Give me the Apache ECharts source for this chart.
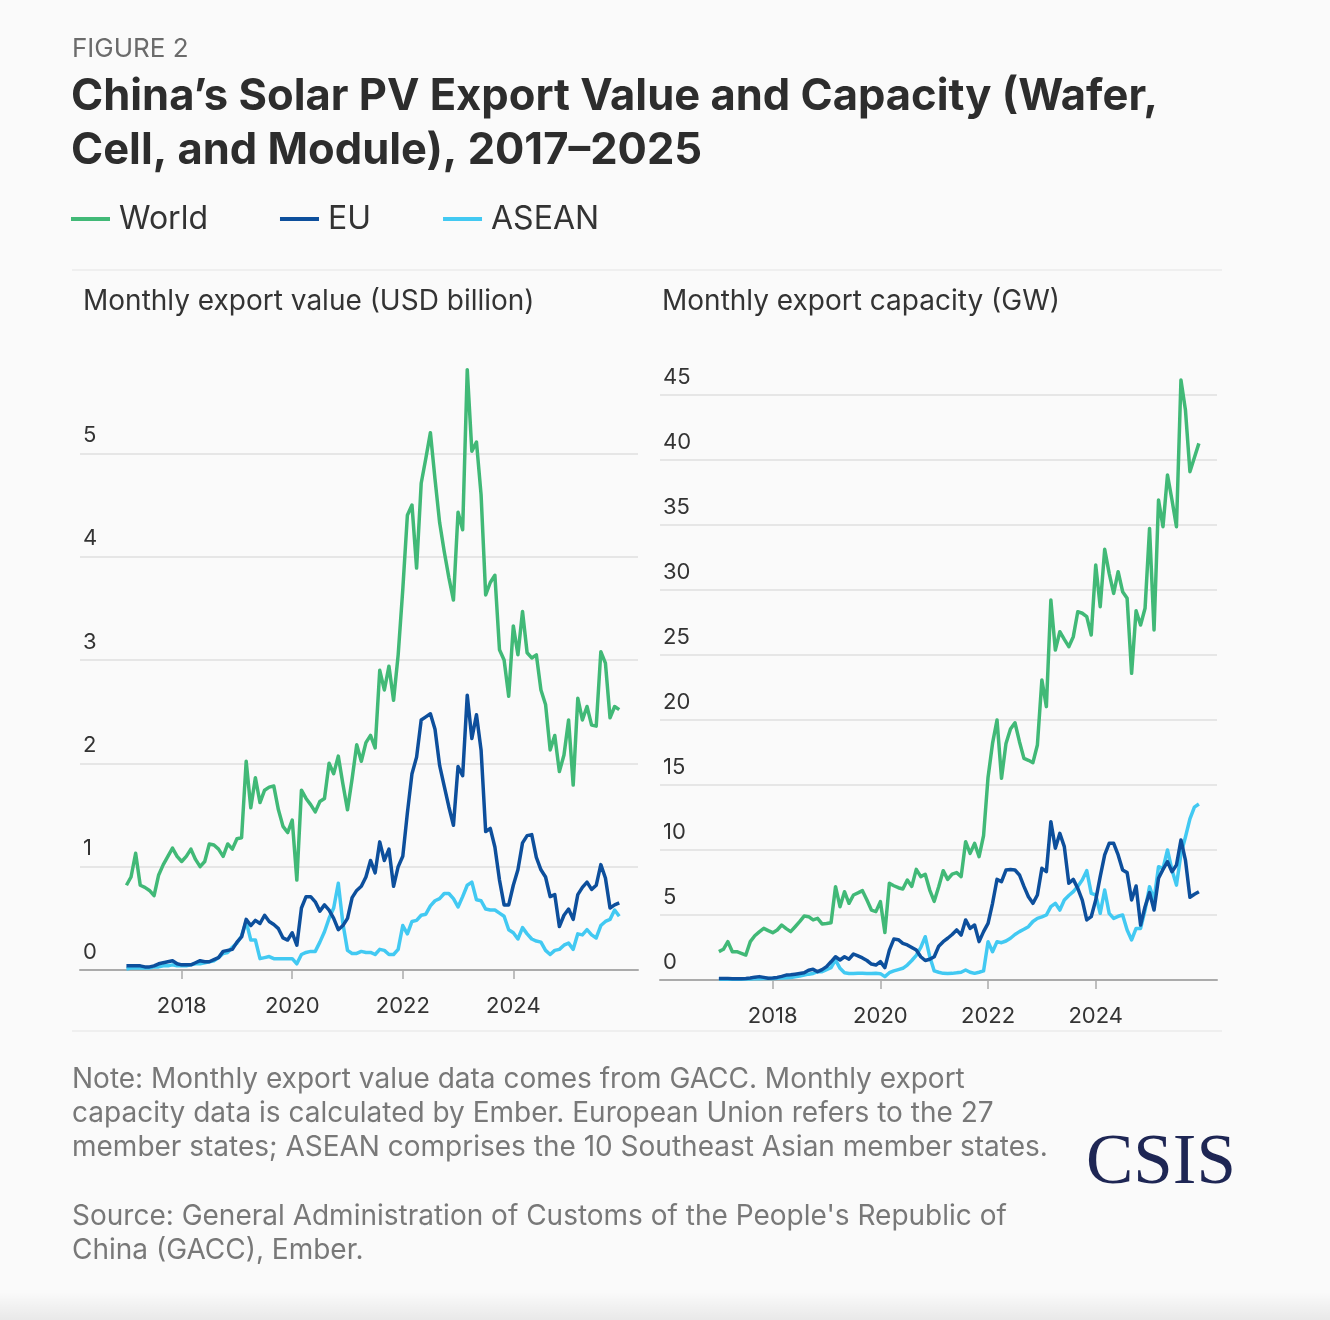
<!DOCTYPE html>
<html>
<head>
<meta charset="utf-8">
<title>China's Solar PV Export Value and Capacity</title>
<script src="https://cdn.jsdelivr.net/npm/echarts@6/dist/echarts.min.js"></script>
<style>
  html, body { margin: 0; padding: 0; background: #fafafa; }
  #chart { width: 1330px; height: 1320px; }
</style>
</head>
<body>
<div id="chart"></div>
<script>
// monthly data, Jan 2017 .. Dec 2025
var startYear = 2017;
var yearTicks = [2018, 2020, 2022, 2024];

// export value, USD billion
var valueWorld = [
  0.82, 0.9, 1.13, 0.82, 0.8, 0.77, 0.72, 0.92, 1.02, 1.1, 1.18, 1.1,
  1.05, 1.1, 1.17, 1.07, 1.0, 1.05, 1.22, 1.21, 1.17, 1.1, 1.22, 1.17,
  1.27, 1.28, 2.02, 1.57, 1.86, 1.62, 1.74, 1.77, 1.78, 1.55, 1.39, 1.33,
  1.45, 0.87, 1.74, 1.66, 1.6, 1.53, 1.63, 1.66, 2.0, 1.9, 2.07, 1.8,
  1.55, 1.85, 2.18, 2.02, 2.2, 2.27, 2.15, 2.9, 2.71, 2.94, 2.61, 3.05,
  3.68, 4.4, 4.5, 3.89, 4.71, 4.95, 5.2, 4.75, 4.33, 4.05, 3.8, 3.58,
  4.43, 4.26, 5.81, 5.02, 5.11, 4.6, 3.63, 3.75, 3.82, 3.1, 3.0, 2.65,
  3.33, 3.05, 3.47, 3.07, 3.02, 3.05, 2.71, 2.57, 2.13, 2.27, 1.92, 2.08,
  2.42, 1.79, 2.63, 2.42, 2.55, 2.37, 2.36, 3.08, 2.97, 2.44, 2.55, 2.52
];
var valueEU = [
  0.04, 0.04, 0.04, 0.04, 0.03, 0.03, 0.04, 0.06, 0.07, 0.08, 0.09, 0.06,
  0.05, 0.05, 0.05, 0.07, 0.09, 0.08, 0.08, 0.1, 0.12, 0.18, 0.19, 0.2,
  0.27, 0.32, 0.49, 0.43, 0.48, 0.45, 0.53, 0.47, 0.44, 0.4, 0.31, 0.29,
  0.36, 0.24, 0.6, 0.71, 0.71, 0.66, 0.57, 0.63, 0.58, 0.5, 0.39, 0.43,
  0.5, 0.7, 0.77, 0.81, 0.9, 1.06, 0.94, 1.24, 1.06, 1.17, 0.81, 1.0,
  1.1, 1.52, 1.9, 2.06, 2.42, 2.45, 2.48, 2.33, 1.98, 1.78, 1.58, 1.4,
  1.97, 1.88, 2.66, 2.24, 2.47, 2.13, 1.34, 1.37, 1.19, 0.87, 0.63, 0.63,
  0.82, 0.97, 1.23, 1.3, 1.31, 1.09, 0.97, 0.9, 0.71, 0.73, 0.42, 0.53,
  0.59, 0.49, 0.73, 0.8, 0.85, 0.78, 0.82, 1.02, 0.89, 0.6, 0.63, 0.65
];
var valueASEAN = [
  0.01, 0.02, 0.02, 0.02, 0.02, 0.02, 0.03, 0.03, 0.04, 0.04, 0.05, 0.04,
  0.04, 0.04, 0.05, 0.06, 0.06, 0.07, 0.08, 0.09, 0.12, 0.16, 0.17, 0.22,
  0.26, 0.33, 0.47, 0.29, 0.29, 0.11, 0.12, 0.13, 0.11, 0.11, 0.11, 0.11,
  0.11, 0.06, 0.15, 0.17, 0.18, 0.18, 0.27, 0.37, 0.5, 0.6, 0.84, 0.45,
  0.19, 0.16, 0.16, 0.18, 0.17, 0.17, 0.15, 0.2, 0.19, 0.15, 0.15, 0.2,
  0.43, 0.35, 0.47, 0.48, 0.53, 0.54, 0.62, 0.67, 0.69, 0.74, 0.74, 0.69,
  0.61, 0.71, 0.82, 0.85, 0.68, 0.67, 0.59, 0.58, 0.58, 0.55, 0.52, 0.39,
  0.36, 0.3, 0.41, 0.35, 0.3, 0.28, 0.27, 0.19, 0.15, 0.19, 0.2, 0.24,
  0.26, 0.2, 0.35, 0.34, 0.39, 0.34, 0.31, 0.43, 0.47, 0.49, 0.58, 0.52
];

// export capacity, GW
var capWorld = [
  2.18, 2.36, 2.95, 2.18, 2.18, 2.05, 1.92, 2.95, 3.4, 3.7, 3.97, 3.8,
  3.64, 3.85, 4.23, 3.95, 3.72, 4.1, 4.49, 4.92, 4.87, 4.62, 4.74, 4.31,
  4.35, 4.41, 7.18, 5.64, 6.79, 5.9, 6.54, 6.7, 6.87, 6.15, 5.38, 5.26,
  6.03, 3.65, 7.44, 7.25, 7.1, 7.0, 7.69, 7.2, 8.51, 7.95, 8.13, 6.92,
  6.05, 7.18, 8.41, 7.74, 8.15, 8.26, 7.95, 10.64, 9.74, 10.51, 9.49, 11.1,
  15.6, 18.2, 20.0, 15.51, 18.2, 19.3, 19.79, 18.33, 17.05, 16.9, 16.72, 18.08,
  23.08, 21.03, 29.23, 25.38, 26.79, 26.2, 25.64, 26.41, 28.33, 28.21, 27.95, 26.54,
  31.92, 28.72, 33.13, 31.28, 29.74, 31.41, 29.87, 29.36, 23.59, 28.41, 27.31, 28.59,
  34.74, 26.92, 36.92, 34.87, 38.85, 36.92, 34.87, 46.15, 43.85, 39.1, 40.2, 41.28
];
var capEU = [
  0.12, 0.12, 0.11, 0.1, 0.1, 0.1, 0.12, 0.15, 0.22, 0.26, 0.2, 0.13,
  0.15, 0.2, 0.28, 0.38, 0.4, 0.45, 0.5, 0.55, 0.75, 0.82, 0.64, 0.8,
  1.03, 1.4, 1.79, 1.54, 1.79, 1.6, 2.0, 1.85, 1.7, 1.5, 1.23, 1.15,
  1.41, 0.95, 2.3, 3.15, 3.1, 2.82, 2.7, 2.5, 2.3, 1.79, 1.5, 1.6,
  1.79, 2.6, 2.95, 3.21, 3.5, 3.85, 3.46, 4.62, 3.97, 4.23, 2.95, 3.72,
  4.36, 5.9, 7.74, 7.56, 8.46, 8.5, 8.46, 8.08, 7.2, 6.4, 5.9, 6.54,
  8.59, 8.33, 12.18, 10.13, 11.28, 10.26, 7.44, 7.74, 7.05, 6.15, 4.62, 4.87,
  6.15, 7.95, 9.62, 10.51, 10.51, 9.62, 8.46, 8.26, 6.15, 7.23, 4.23, 5.64,
  6.72, 5.38, 7.82, 8.51, 9.1, 8.33, 8.85, 10.77, 9.23, 6.36, 6.6, 6.79
];
var capASEAN = [
  0.05, 0.05, 0.05, 0.05, 0.06, 0.06, 0.08, 0.08, 0.1, 0.1, 0.12, 0.12,
  0.12, 0.13, 0.15, 0.18, 0.2, 0.25, 0.3, 0.38, 0.45, 0.5, 0.64, 0.64,
  0.8, 0.95, 1.54, 0.9, 0.56, 0.5, 0.5, 0.51, 0.51, 0.5, 0.5, 0.51,
  0.49, 0.26, 0.56, 0.7, 0.8, 0.9, 1.15, 1.5, 1.9, 2.5, 3.33, 1.8,
  0.7, 0.6, 0.51, 0.5, 0.51, 0.55, 0.6, 0.77, 0.6, 0.51, 0.6, 0.7,
  2.95, 2.18, 2.95, 2.87, 3.0, 3.21, 3.5, 3.72, 3.9, 4.1, 4.5, 4.74,
  4.85, 5.0, 5.64, 5.9, 5.38, 6.15, 6.5, 6.8, 7.2, 7.69, 8.41, 6.67,
  6.54, 5.13, 6.92, 5.13, 4.74, 4.9, 5.0, 3.85, 3.08, 3.97, 3.97, 5.38,
  7.18, 6.15, 8.72, 8.59, 10.0, 8.46, 7.3, 9.7, 11.0, 12.4, 13.3, 13.54
];

var colors = { World: '#41b977', EU: '#0d4f9c', ASEAN: '#42c9f2' };
var font = 'Inter, "Noto Sans", sans-serif';

// month index -> fractional year
function toPoints(arr) {
  return arr.map(function (v, i) { return [startYear + i / 12, v]; });
}

function lineSeries(name, arr, idx) {
  return {
    name: name,
    type: 'line',
    xAxisIndex: idx,
    yAxisIndex: idx,
    data: toPoints(arr),
    showSymbol: false,
    lineStyle: { width: 3.5, color: colors[name], join: 'round' },
    itemStyle: { color: colors[name] },
    emphasis: { disabled: true }
  };
}

function gridColors(n) {
  var c = [];
  for (var i = 0; i < n; i++) c.push('#e6e6e6');
  c.push('rgba(0,0,0,0)');   // hide the top line (max)
  return c;
}

function xAxis(idx, min, max) {
  return {
    gridIndex: idx,
    type: 'value',
    min: min,
    max: max,
    axisLine: { show: true, lineStyle: { color: '#ababab', width: 2 } },
    axisTick: { show: true, customValues: yearTicks, length: 9, lineStyle: { color: '#ababab', width: 1.5 } },
    axisLabel: {
      customValues: yearTicks,
      formatter: function (v) { return String(Math.round(v)); },
      fontSize: 22, color: '#333', margin: 25, fontFamily: font
    },
    splitLine: { show: false }
  };
}

function yAxis(idx, max, interval, steps) {
  return {
    gridIndex: idx,
    type: 'value',
    min: 0,
    max: max,
    interval: interval,
    axisLine: { show: false },
    axisTick: { show: false },
    axisLabel: {
      inside: true,
      verticalAlign: 'bottom',
      margin: 3,
      lineHeight: 22,
      padding: [0, 0, 7, 0],
      fontSize: 22, color: '#333', fontFamily: font,
      formatter: function (v) { return v >= max ? '' : String(v); }
    },
    splitLine: { show: true, lineStyle: { color: gridColors(steps), width: 2 } }
  };
}

var chart = echarts.init(document.getElementById('chart'), null, { renderer: 'canvas' });

var option = {
  backgroundColor: '#fafafa',
  animation: false,
  textStyle: { fontFamily: font },
  legend: {
    data: ['World', 'EU', 'ASEAN'],
    left: 66,
    top: 198,
    icon: 'rect',
    itemWidth: 39,
    itemHeight: 4,
    itemGap: 72,
    textStyle: { fontSize: 32, color: '#333', fontFamily: font, padding: [0, 0, 0, 4] },
    selectedMode: false
  },
  grid: [
    { left: 80, top: 350, width: 558, height: 620 },
    { left: 660, top: 330, width: 557, height: 650 }
  ],
  xAxis: [
    xAxis(0, 2016.16, 2026.256),
    xAxis(1, 2015.906, 2026.253)
  ],
  yAxis: [
    yAxis(0, 6, 1, 6),
    yAxis(1, 50, 5, 10)
  ],
  series: [
    lineSeries('World', valueWorld, 0),
    lineSeries('ASEAN', valueASEAN, 0),
    lineSeries('EU', valueEU, 0),
    lineSeries('World', capWorld, 1),
    lineSeries('ASEAN', capASEAN, 1),
    lineSeries('EU', capEU, 1)
  ],
  graphic: [
    { type: 'text', left: 72, top: 36, style: { text: 'FIGURE 2', fontSize: 26, fill: '#6b6b6b', fontFamily: font } },
    {
      type: 'text', left: 71, top: 70,
      style: {
        text: 'China’s Solar PV Export Value and Capacity (Wafer,\nCell, and Module), 2017–2025',
        fontSize: 43.5, fontWeight: 'bold', lineHeight: 54, fill: '#2d2d2d', fontFamily: font
      }
    },
    { type: 'line', shape: { x1: 72, y1: 270, x2: 1222, y2: 270 }, style: { stroke: '#efefef', lineWidth: 2 } },
    { type: 'text', left: 83, top: 288, style: { text: 'Monthly export value (USD billion)', fontSize: 28, fill: '#333', fontFamily: font } },
    { type: 'text', left: 662, top: 288, style: { text: 'Monthly export capacity (GW)', fontSize: 28, fill: '#333', fontFamily: font } },
    { type: 'line', shape: { x1: 72, y1: 1031, x2: 1222, y2: 1031 }, style: { stroke: '#efefef', lineWidth: 2 } },
    {
      type: 'text', left: 72, top: 1063,
      style: {
        text: 'Note: Monthly export value data comes from GACC. Monthly export\ncapacity data is calculated by Ember. European Union refers to the 27\nmember states; ASEAN comprises the 10 Southeast Asian member states.',
        fontSize: 28, lineHeight: 34, fill: '#787878', fontFamily: font
      }
    },
    {
      type: 'text', left: 72, top: 1200,
      style: {
        text: 'Source: General Administration of Customs of the People\'s Republic of\nChina (GACC), Ember.',
        fontSize: 28, lineHeight: 34, fill: '#787878', fontFamily: font
      }
    },
    { type: 'text', left: 1086, top: 1129, style: { text: 'CSIS', fontSize: 71, fill: '#1e2654', fontFamily: '"Liberation Serif", "DejaVu Serif", serif' } },
    {
      type: 'rect', shape: { x: 0, y: 1292, width: 1330, height: 28 },
      style: {
        fill: new echarts.graphic.LinearGradient(0, 0, 0, 1, [
          { offset: 0, color: 'rgba(0,0,0,0)' },
          { offset: 1, color: 'rgba(0,0,0,0.07)' }
        ])
      },
      silent: true
    }
  ]
};

chart.setOption(option);
window.onresize = chart.resize;
</script>
</body>
</html>
